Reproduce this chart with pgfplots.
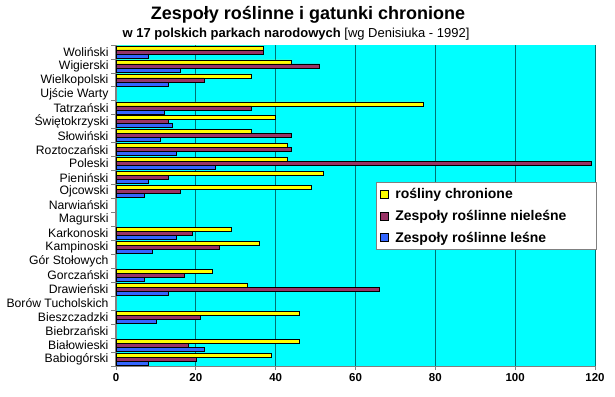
\documentclass[border=0pt]{standalone}
\usepackage{fontspec}
\setmainfont{Liberation Sans}
\usepackage{pgfplots}
\pgfplotsset{compat=1.18}
\definecolor{plotbg}{HTML}{00FFFF}
\definecolor{gridc}{HTML}{007373}
\definecolor{chron}{HTML}{FFFF00}
\definecolor{niel}{HTML}{993366}
\definecolor{les}{HTML}{3366FF}
\definecolor{axgray}{HTML}{808080}
\begin{document}
\begin{tikzpicture}
\path[use as bounding box, fill=white] (0,0) rectangle (615pt,396pt);
\node[font=\bfseries\fontsize{18}{20}\selectfont] at (308pt,381pt) {Zespoły roślinne i gatunki chronione};
\node[font=\fontsize{13}{15}\selectfont] at (296pt,362pt) {\textbf{w 17 polskich parkach narodowych} [wg Denisiuka - 1992]};
\begin{axis}[
  at={(116pt,30pt)}, anchor=south west,
  width=479pt, height=321pt, scale only axis,
  xbar, bar width=4pt,
  xmin=0, xmax=120, ymin=-0.5, ymax=22.5,
  axis background/.style={fill=plotbg},
  axis x line*=bottom, axis y line*=left,
  axis line style={draw=axgray, line width=1.2pt, -},
  x axis line style={line width=0.8pt},
  xtick={0,20,...,120},
  xmajorgrids, major grid style={draw=gridc, line width=0.8pt},
  ytick={0,...,22},
  yticklabels={Babiogórski,Białowieski,Biebrzański,Bieszczadzki,Borów Tucholskich,Drawieński,Gorczański,Gór Stołowych,Kampinoski,Karkonoski,Magurski,Narwiański,Ojcowski,Pieniński,Poleski,Roztoczański,Słowiński,Świętokrzyski,Tatrzański,Ujście Warty,Wielkopolski,Wigierski,Woliński},
  minor ytick={-0.5,0.5,...,22.5},
  ymajorgrids=false, yminorgrids=false,
  major y tick style={draw=none},
  minor y tick style={draw=axgray, line width=0.8pt},
  major x tick style={draw=axgray, line width=0.8pt},
  tick align=outside, major tick length=4pt, minor tick length=5pt,
  /pgf/number format/assume math mode=true,
  yticklabel style={font=\fontsize{12.2}{14}\selectfont, black},
  xticklabel style={font=\bfseries\fontsize{11.5}{13}\selectfont, black},
  legend style={at={(0.542,0.573)}, anchor=north west, draw=axgray, fill=white,
    font=\bfseries\fontsize{14}{16}\selectfont, row sep=6pt, inner xsep=4pt, inner ysep=4pt},
  legend cell align=left,
  legend style={/tikz/every odd column/.append style={column sep=5pt}},
  legend image code/.code={\draw[#1,draw=black,line width=0.5pt] (0pt,-4pt) rectangle (8pt,4pt);},
  every axis plot/.append style={draw=black, line width=0.6pt},
]
\addplot[fill=chron, bar shift=4pt] coordinates {
(39,0) (46,1) (46,3) (33,5) (24,6) (36,8) (29,9) (49,12) (52,13) (43,14) (43,15) (34,16) (40,17) (77,18) (34,20) (44,21) (37,22)};
\addplot[fill=niel, bar shift=0pt] coordinates {
(20,0) (18,1) (21,3) (66,5) (17,6) (26,8) (19,9) (16,12) (13,13) (119,14) (44,15) (44,16) (13,17) (34,18) (22,20) (51,21) (37,22)};
\addplot[fill=les, bar shift=-4pt] coordinates {
(8,0) (22,1) (10,3) (13,5) (7,6) (9,8) (15,9) (7,12) (8,13) (25,14) (15,15) (11,16) (14,17) (12,18) (13,20) (16,21) (8,22)};
\legend{rośliny chronione,Zespoły roślinne nieleśne\rule{24pt}{0pt},Zespoły roślinne leśne}
\end{axis}
\end{tikzpicture}
\end{document}
